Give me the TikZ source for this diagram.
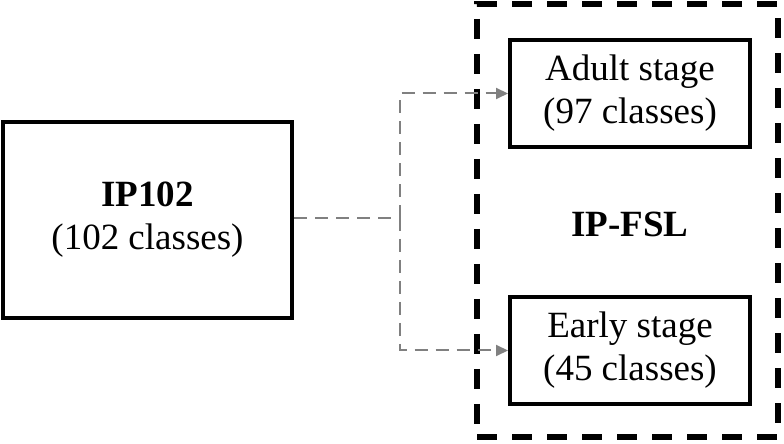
\documentclass[tikz,border=0pt]{standalone}
\usepackage{fontspec}
\setmainfont{Liberation Serif}
\usetikzlibrary{arrows.meta}
\begin{document}
\begin{tikzpicture}[x=1pt,y=1pt,
  box/.style={draw=black,line width=4pt,rectangle,minimum width=#1,inner sep=0pt,align=center,font=\fontsize{37}{43}\selectfont},
  conn/.style={draw={rgb,255:red,128;green,128;blue,128},line width=2pt,dash pattern=on 13pt off 8pt,-{Triangle[length=12pt,width=11pt]}},
  outerbox/.style={draw=black,line width=6pt,dash pattern=on 20pt off 15pt,rectangle,inner sep=0pt}]
\useasboundingbox (0,0) rectangle (784,444);
\node[box=289pt,minimum height=196pt] (ip) at (147.5,224) {\textbf{IP102}\\(102 classes)};
\node[outerbox,minimum width=301pt,minimum height=433pt] (outer) at (627.5,223.5) {};
\node[box=240pt,minimum height=107pt] (adult) at (630,350.5) {Adult stage\\(97 classes)};
\node[box=240pt,minimum height=107pt] (early) at (630,93.5) {Early stage\\(45 classes)};
\node[font=\fontsize{37}{43}\selectfont\bfseries] (fsl) at (630,220) {IP-FSL};
\coordinate (j) at (400,226);
\draw[conn,-] (ip.east|-j) -- (j);
\draw[conn] (j) |- (adult.west);
\draw[conn] (j) |- (early.west);
\end{tikzpicture}
\end{document}
